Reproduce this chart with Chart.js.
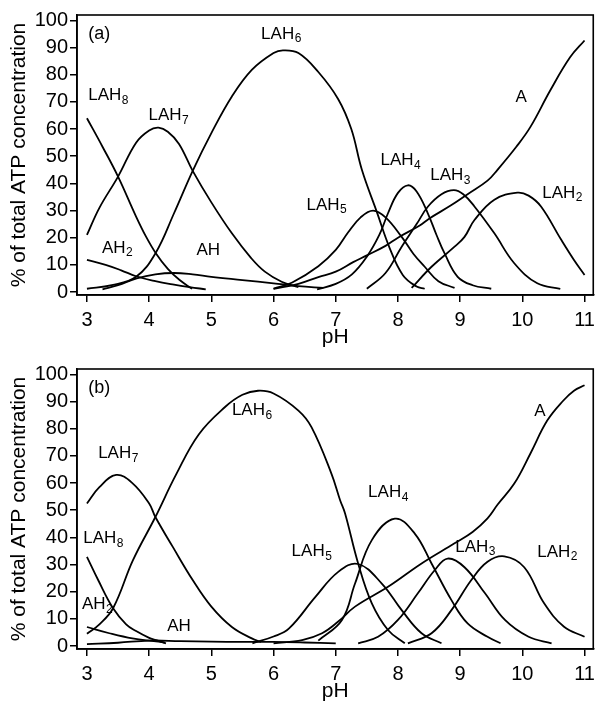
<!DOCTYPE html>
<html>
<head>
<meta charset="utf-8">
<script src="https://cdn.jsdelivr.net/npm/chart.js@4"></script>
<style>
  body { margin: 0; background: #fff; }
  #wrap { position: relative; width: 601px; height: 704px; }
  #chartA { position: absolute; left: 0; top: 0; }
  #chartB { position: absolute; left: 0; top: 350px; }
</style>
</head>
<body>
<div id="wrap">
  <canvas id="chartA" width="601" height="350"></canvas>
  <canvas id="chartB" width="601" height="354"></canvas>
</div>
<script>
var xTicks = [3, 4, 5, 6, 7, 8, 9, 10, 11];
var yTicks = [0, 10, 20, 30, 40, 50, 60, 70, 80, 90, 100];

// panel (a): [pH, % of total ATP]
var a_LAH8 = [[3.0,64],[3.25,53.5],[3.5,42.5],[3.79,27.8],[3.95,20.4],[4.11,14.2],[4.3,8.5],[4.49,4.4],[4.69,1.2]];
var a_LAH7 = [[3.0,21],[3.2,31],[3.5,42.5],[3.79,55],[4.0,59.5],[4.15,60.5],[4.3,59],[4.48,54.5],[4.7,44.6],[5.0,33],[5.33,21.6],[5.64,12.5],[5.86,7.5],[6.13,3.8],[6.4,1.8]];
var a_LAH6 = [[3.0,1.2],[3.4,2.5],[3.79,5.6],[4.1,14.2],[4.4,29],[4.7,44.6],[5.0,58.5],[5.33,72],[5.65,81.8],[6.0,88],[6.15,89],[6.4,88],[6.72,81],[7.04,71],[7.25,60],[7.42,45],[7.66,29.5],[7.87,16],[8.08,6.2],[8.3,2],[8.43,1.2]];
var a_LAH5 = [[6.0,1.2],[6.3,3.5],[6.72,9.5],[7.0,15.5],[7.2,22],[7.4,27.5],[7.6,30],[7.8,27.5],[8.06,20.3],[8.25,14],[8.43,9.3],[8.65,4],[8.91,1.5]];
var a_LAH4 = [[6.7,1],[7.0,3],[7.26,6.5],[7.5,13],[7.7,21],[7.84,29],[8.0,36.5],[8.16,39.3],[8.3,37],[8.48,29],[8.62,21],[8.75,14.2],[8.96,5.6],[9.2,2.5],[9.5,1.2]];
var a_LAH3 = [[7.5,1.2],[7.8,7],[8.06,16.7],[8.3,25],[8.48,31.4],[8.7,36],[8.9,37.5],[9.05,36],[9.23,31.5],[9.55,21.6],[9.87,10.6],[10.24,3.2],[10.61,1.2]];
var a_LAH2 = [[8.22,1.5],[8.54,9.3],[8.91,16.7],[9.07,20.3],[9.23,26.5],[9.55,34],[9.92,36.6],[10.1,35.5],[10.3,31.5],[10.62,19.4],[10.83,11.8],[11.0,6.3]];
var a_A    = [[6.0,1.2],[6.4,3],[6.72,5.5],[7.0,7.5],[7.28,11],[7.5,13.5],[7.8,17],[8.0,20],[8.35,24.5],[8.5,27],[8.86,32],[9.12,36],[9.44,41],[9.6,45],[9.9,53.4],[10.13,60.8],[10.45,74.3],[10.77,86.5],[11.0,92.6]];
var a_AH   = [[3.25,1],[3.5,2.5],[3.8,5],[4.1,6.5],[4.4,7],[4.7,6.5],[5.0,5.6],[5.5,4.4],[6.0,3.2],[6.4,2.2],[6.8,1.5]];
var a_AH2  = [[3.0,11.8],[3.3,10],[3.55,8],[3.79,5.8],[4.1,4],[4.4,2.7],[4.65,1.8],[4.91,1]];

// panel (b)
var b_LAH8 = [[3.0,32.8],[3.18,24.3],[3.42,13.9],[3.63,8],[3.79,5.5],[4.0,3],[4.11,2.2],[4.27,1]];
var b_LAH7 = [[3.0,52.5],[3.2,58.5],[3.47,63],[3.73,60],[4.0,52.5],[4.1,47.5],[4.38,36.5],[4.7,24.3],[5.0,14.5],[5.33,7],[5.65,2.8],[5.8,1.5]];
var b_LAH6 = [[3.0,4.5],[3.2,8],[3.42,13.9],[3.74,31.6],[4.1,47.5],[4.43,63],[4.8,78],[5.22,88],[5.5,92.5],[5.75,94],[6.0,93],[6.4,86.7],[6.61,80.6],[6.93,63.5],[7.07,53.7],[7.15,48.8],[7.36,30.4],[7.58,15.7],[7.84,5.9],[8.11,1]];
var b_LAH5 = [[5.66,1],[6.0,3.5],[6.25,6.5],[6.67,18],[7.04,27.3],[7.36,30.2],[7.74,23],[8.06,13.2],[8.38,4.7],[8.7,1]];
var b_LAH4 = [[6.72,2],[7.1,9.6],[7.31,23],[7.58,39],[7.95,46.9],[8.27,41.4],[8.54,30.4],[8.86,16.9],[9.12,8.3],[9.44,3.4],[9.65,1]];
var b_LAH3 = [[7.36,1],[7.68,3.4],[8.0,9.6],[8.32,19.4],[8.59,27.9],[8.8,32.2],[9.07,29],[9.4,19.4],[9.72,9.6],[10.1,3.4],[10.47,1]];
var b_LAH2 = [[8.16,1],[8.54,4.7],[8.86,13.2],[9.18,24.3],[9.44,31],[9.71,33],[10.03,29],[10.35,15.7],[10.67,7.1],[11.0,3.4]];
var b_A    = [[6.0,1],[6.46,2.2],[6.78,4.7],[7.04,9],[7.31,14.5],[7.84,21.8],[8.38,30.4],[8.91,37.8],[9.2,42],[9.44,47],[9.6,52],[9.87,59.8],[10.13,70.9],[10.4,83],[10.66,90.4],[10.83,94],[11.0,96]];
var b_AH   = [[3.0,0.7],[3.5,1.2],[4.0,2],[4.5,1.8],[5.0,1.6],[5.5,1.5],[6.0,1.5],[6.5,1.3],[7.0,1]];
var b_AH2  = [[3.0,7],[3.36,4.7],[3.73,2.8],[4.11,1.7],[4.25,1.2]];

// curve labels (text, subscript, pH, %)
var a_labelText = ['(a)','LAH','LAH','LAH','AH','AH','LAH','LAH','LAH','LAH','A'];
var a_labelSub  = ['','6','8','7','2','','5','4','3','2',''];
var a_labelX    = [3.02,5.80,3.02,3.99,3.24,4.76,6.53,7.72,8.52,10.32,9.89];
var a_labelY    = [95,95,72.4,65.1,16.2,15.4,32,48.5,43,36.4,71.7];

var b_labelText = ['(b)','LAH','LAH','LAH','AH','AH','LAH','LAH','LAH','LAH','A'];
var b_labelSub  = ['','6','7','8','2','','5','4','3','2',''];
var b_labelX    = [3.02,5.33,3.18,2.94,2.92,4.29,6.29,7.52,8.92,10.24,10.19];
var b_labelY    = [94.9,86.8,71,39.7,15.4,7.4,34.9,56.6,36.4,34.6,86.4];

var FONT = "Arial, 'Liberation Sans', Helvetica, sans-serif";

function toPoints(arr) {
    return arr.map(function(p) { return {x: p[0], y: p[1]}; });
}

var framePlugin = {
    id: 'frame',
    afterDraw: function(chart) {
        var a = chart.chartArea, ctx = chart.ctx;
        ctx.save();
        ctx.strokeStyle = '#000';
        ctx.lineWidth = 1.6;
        ctx.strokeRect(a.left, a.top, a.right - a.left, a.bottom - a.top);
        ctx.restore();
    }
};

var labelPlugin = {
    id: 'curveLabels',
    afterDatasetsDraw: function(chart, args, opts) {
        var ctx = chart.ctx;
        var xs = chart.scales.x, ys = chart.scales.y;
        ctx.save();
        ctx.fillStyle = '#000';
        ctx.textBaseline = 'middle';
        ctx.textAlign = 'left';
        for (var i = 0; i < opts.text.length; i++) {
            var px = xs.getPixelForValue(opts.x[i]);
            var py = ys.getPixelForValue(opts.y[i]);
            ctx.font = (i === 0 ? '18px ' : '17px ') + FONT;
            ctx.fillText(opts.text[i], px, py);
            if (opts.sub[i]) {
                var w = ctx.measureText(opts.text[i]).width;
                ctx.font = '12px ' + FONT;
                ctx.fillText(opts.sub[i], px + w + 0.5, py + 5);
            }
        }
        ctx.restore();
    }
};

function makeChart(id, series, text, sub, lx, ly, padTop) {
    var datasets = series.map(function(s) {
        return {
            data: toPoints(s),
            borderColor: '#000',
            borderWidth: 1.8,
            pointRadius: 0,
            fill: false,
            tension: 0.4
        };
    });
    return new Chart(document.getElementById(id), {
        type: 'line',
        data: { datasets: datasets },
        options: {
            responsive: false,
            animation: false,
            devicePixelRatio: 1,
            layout: { padding: { top: padTop, right: 4, left: 0, bottom: 0 } },
            plugins: {
                legend: { display: false },
                tooltip: { enabled: false },
                curveLabels: { text: text, sub: sub, x: lx, y: ly }
            },
            scales: {
                x: {
                    type: 'linear',
                    min: 2.84,
                    max: 11.14,
                    afterBuildTicks: function(s) { s.ticks = xTicks.map(function(v) { return {value: v}; }); },
                    afterFit: function(s) { s.height = 55; },
                    grid: { display: true, drawOnChartArea: false, drawTicks: true, tickLength: 7, color: '#000', lineWidth: 1.5 },
                    border: { display: true, color: '#000', width: 1.6 },
                    ticks: { color: '#000', padding: 6, maxRotation: 0, font: { family: FONT, size: 20 } },
                    title: { display: true, text: 'pH', color: '#000', padding: { top: 0, bottom: 0 }, font: { family: FONT, size: 21 } }
                },
                y: {
                    min: -1.1,
                    max: 102,
                    afterBuildTicks: function(s) { s.ticks = yTicks.map(function(v) { return {value: v}; }); },
                    afterFit: function(s) { s.width = 77; },
                    grid: { display: true, drawOnChartArea: false, drawTicks: true, tickLength: 7, color: '#000', lineWidth: 1.5 },
                    border: { display: true, color: '#000', width: 1.6 },
                    ticks: { color: '#000', padding: 2, font: { family: FONT, size: 20 } },
                    title: { display: true, text: '% of total ATP concentration', color: '#000', padding: { top: 7, bottom: 0 }, font: { family: FONT, size: 21 } }
                }
            }
        },
        plugins: [framePlugin, labelPlugin]
    });
}

makeChart('chartA', [a_LAH8, a_LAH7, a_LAH6, a_LAH5, a_LAH4, a_LAH3, a_LAH2, a_A, a_AH, a_AH2],
          a_labelText, a_labelSub, a_labelX, a_labelY, 15);
makeChart('chartB', [b_LAH8, b_LAH7, b_LAH6, b_LAH5, b_LAH4, b_LAH3, b_LAH2, b_A, b_AH, b_AH2],
          b_labelText, b_labelSub, b_labelX, b_labelY, 19);
</script>
</body>
</html>
